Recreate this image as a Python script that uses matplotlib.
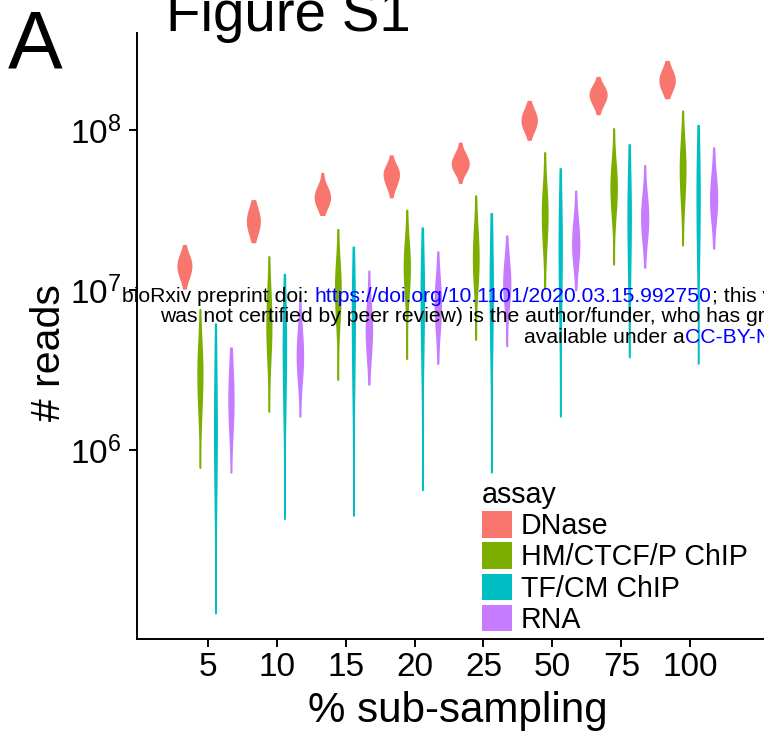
import numpy as np
import matplotlib
matplotlib.use("Agg")
import matplotlib.pyplot as plt
from matplotlib.patches import Patch

plt.rcParams['font.family'] = ['Liberation Sans', 'DejaVu Sans']
plt.rcParams['mathtext.fontset'] = 'custom'
plt.rcParams['mathtext.rm'] = 'Liberation Sans'
plt.rcParams['mathtext.it'] = 'Liberation Sans:italic'
plt.rcParams['mathtext.bf'] = 'Liberation Sans:bold'

# x categories and assay groups
subsampling = ['5', '10', '15', '20', '25', '50', '75', '100']
assays = ['DNase', 'HM/CTCF/P ChIP', 'TF/CM ChIP', 'RNA']
colors = ['#F8766D', '#7CAE00', '#00BFC4', '#C77CFF']

# log10(# reads) per sub-sampling level: min, q25, median, q75, max
dnase = [[7.01, 7.09, 7.15, 7.20, 7.28],
         [7.30, 7.37, 7.43, 7.49, 7.56],
         [7.47, 7.53, 7.58, 7.63, 7.73],
         [7.58, 7.66, 7.72, 7.76, 7.84],
         [7.67, 7.75, 7.79, 7.84, 7.92],
         [7.94, 8.01, 8.06, 8.11, 8.18],
         [8.10, 8.17, 8.22, 8.26, 8.33],
         [8.20, 8.26, 8.31, 8.36, 8.43]]
hm = [[5.89, 6.28, 6.47, 6.60, 6.88],
      [6.24, 6.62, 6.78, 6.94, 7.21],
      [6.44, 6.84, 7.00, 7.12, 7.38],
      [6.57, 7.00, 7.14, 7.26, 7.50],
      [6.69, 7.06, 7.20, 7.34, 7.59],
      [7.01, 7.31, 7.47, 7.59, 7.86],
      [7.16, 7.50, 7.64, 7.75, 8.01],
      [7.28, 7.59, 7.75, 7.87, 8.12]]
tf = [[4.98, 5.81, 6.12, 6.44, 6.79],
      [5.57, 6.31, 6.62, 6.81, 7.10],
      [5.59, 6.44, 6.81, 7.00, 7.27],
      [5.75, 6.62, 6.94, 7.12, 7.39],
      [5.86, 6.69, 7.00, 7.22, 7.48],
      [6.21, 6.94, 7.25, 7.47, 7.76],
      [6.58, 7.12, 7.44, 7.62, 7.91],
      [6.54, 7.25, 7.56, 7.78, 8.03]]
rna = [[5.86, 6.16, 6.31, 6.47, 6.64],
       [6.21, 6.47, 6.59, 6.72, 6.95],
       [6.41, 6.62, 6.75, 6.87, 7.12],
       [6.54, 6.78, 6.91, 7.03, 7.24],
       [6.65, 6.94, 7.04, 7.16, 7.34],
       [7.00, 7.19, 7.29, 7.41, 7.62],
       [7.14, 7.34, 7.45, 7.56, 7.78],
       [7.26, 7.47, 7.57, 7.69, 7.89]]
all_data = [dnase, hm, tf, rna]

# weights of the summary points in the smoothed density
point_weights = np.array([0.04, 0.28, 0.36, 0.28, 0.04])


def density(vals, grid):
    vals = np.asarray(vals)
    bw = 0.45 * (vals[3] - vals[1])
    z = (grid[None, :] - vals[:, None]) / bw
    return (point_weights[:, None] * np.exp(-0.5 * z ** 2)).sum(0) / (bw * np.sqrt(2 * np.pi))


# densities on a trimmed grid (area scaling like ggplot)
curves = []
for i, assay_data in enumerate(all_data):
    for j, vals in enumerate(assay_data):
        grid = np.linspace(vals[0], vals[-1], 200)
        curves.append((i, j, grid, density(vals, grid)))
dmax = max(c[3].max() for c in curves)

fig = plt.figure(figsize=(7.64, 7.40), dpi=100)
ax = fig.add_axes([137 / 764, 101 / 740, 643 / 764, 606 / 740])

dodge = 0.9 / 4
max_width = 0.24
for i, j, grid, d in curves:
    pos = j + 1 + (i - 1.5) * dodge
    half = d / dmax * max_width / 2
    ax.fill_betweenx(10 ** grid, pos - half, pos + half, facecolor=colors[i],
                     edgecolor=colors[i], linewidth=1.1)

ax.set_yscale('log')
ax.set_ylim(10 ** 4.819, 10 ** 8.606)
ax.set_yticks([1e6, 1e7, 1e8])
ax.yaxis.set_minor_locator(matplotlib.ticker.NullLocator())
ax.set_xlim(-0.025, 9.3)
ax.set_xticks(range(1, 9))
ax.set_xticklabels(subsampling)
for side in ['top', 'right']:
    ax.spines[side].set_visible(False)
for side in ['left', 'bottom']:
    ax.spines[side].set_linewidth(1.4)
ax.tick_params(axis='both', length=6, width=1.4, labelsize=24, colors='black')
ax.tick_params(axis='x', pad=3.5)
ax.tick_params(axis='y', pad=5)

fig.text(458 / 764, 1 - 722 / 740, '% sub-sampling', fontsize=30.3, ha='center', va='baseline')
fig.text(60 / 764, 1 - 353 / 740, '# reads', fontsize=29.5, rotation=90,
         rotation_mode='anchor', ha='center', va='baseline')

fig.text(166 / 764, 1 - 31 / 740, 'Figure S1', fontsize=40.7, ha='left', va='baseline')
fig.text(8 / 764, 1 - 67 / 740, 'A', fontsize=59, ha='left', va='baseline')

handles = [Patch(facecolor=c, edgecolor='none') for c in colors]
fig.legend(handles, assays, title='assay', loc='upper left',
           bbox_to_anchor=(482 / 764, 1 - 481 / 740), frameon=False,
           fontsize=20.6, title_fontsize=20.6, handlelength=1.05, handleheight=1.035,
           labelspacing=0.08, handletextpad=0.3, borderpad=0, borderaxespad=0,
           alignment='left')

# bioRxiv watermark
wm = 15.2
sp = 0.278 * wm
t1 = fig.text(122.5 / 764, 1 - 301.7 / 740, 'bioRxiv preprint doi:', fontsize=wm, va='baseline')
t2 = ax.annotate('https://doi.org/10.1101/2020.03.15.992750', xy=(1, 0), xycoords=t1,
                 xytext=(sp, 0), textcoords='offset points', fontsize=wm, color='blue',
                 va='bottom', ha='left', annotation_clip=False)
ax.annotate('; this version posted March 16, 2020.', xy=(1, 0), xycoords=t2,
            fontsize=wm, va='bottom', ha='left', annotation_clip=False)
fig.text(160.5 / 764, 1 - 321.7 / 740,
         'was not certified by peer review) is the author/funder, who has granted bioRxiv a license',
         fontsize=wm, va='baseline')
t3 = fig.text(524 / 764, 1 - 343 / 740, 'available under a', fontsize=wm, va='baseline')
ax.annotate('CC-BY-NC-ND 4.0 International license', xy=(1, 0), xycoords=t3,
            fontsize=wm, color='blue', va='bottom', ha='left', annotation_clip=False)

fig.savefig('out.png', dpi=100)
